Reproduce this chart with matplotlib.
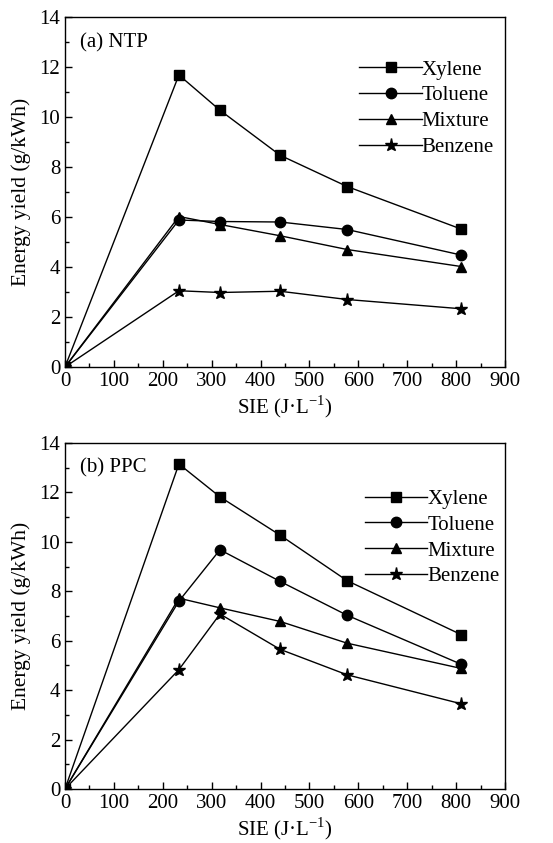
import matplotlib
matplotlib.use("Agg")
import matplotlib.pyplot as plt
from matplotlib.ticker import MultipleLocator

plt.rcParams['font.family'] = ['Liberation Serif', 'DejaVu Serif']
plt.rcParams['mathtext.fontset'] = 'custom'
plt.rcParams['mathtext.rm'] = 'Liberation Serif'

sie = [0, 233, 317, 440, 577, 810]
series_names = ["Xylene", "Toluene", "Mixture", "Benzene"]
markers = ["s", "o", "^", "*"]

ntp_xylene = [0, 11.68, 10.27, 8.47, 7.22, 5.52]
ntp_toluene = [0, 5.88, 5.82, 5.80, 5.50, 4.48]
ntp_mixture = [0, 6.02, 5.70, 5.25, 4.70, 4.02]
ntp_benzene = [0, 3.05, 2.98, 3.03, 2.70, 2.33]

ppc_xylene = [0, 13.15, 11.82, 10.27, 8.43, 6.25]
ppc_toluene = [0, 7.60, 9.68, 8.40, 7.03, 5.05]
ppc_mixture = [0, 7.72, 7.33, 6.78, 5.90, 4.88]
ppc_benzene = [0, 4.83, 7.08, 5.65, 4.62, 3.45]

panels = [
    ("(a) NTP", [ntp_xylene, ntp_toluene, ntp_mixture, ntp_benzene], (0.975, 0.877)),
    ("(b) PPC", [ppc_xylene, ppc_toluene, ppc_mixture, ppc_benzene], (0.988, 0.866)),
]

fig = plt.figure(figsize=(5.53, 8.43), dpi=100)
W, H = 553, 843
boxes = [(65, 17, 505, 367), (65, 443, 505, 789)]
fs = 15

for (title, data, anchor), (l, t, r, b) in zip(panels, boxes):
    ax = fig.add_axes([l / W, 1 - b / H, (r - l) / W, (b - t) / H])
    for name, mk, ys in zip(series_names, markers, data):
        ms = 9.5 if mk == "*" else 7.5
        ax.plot(sie, ys, color='black', lw=1.0, marker=mk, ms=ms, label=name)
    ax.set_xlim(0, 900)
    ax.set_ylim(0, 14)
    ax.xaxis.set_major_locator(MultipleLocator(100))
    ax.xaxis.set_minor_locator(MultipleLocator(50))
    ax.yaxis.set_major_locator(MultipleLocator(2))
    ax.yaxis.set_minor_locator(MultipleLocator(1))
    ax.tick_params(which='both', direction='in', top=False, right=False, labelsize=fs)
    ax.tick_params(which='major', length=5, width=1)
    ax.tick_params(which='minor', length=3, width=1)
    for sp in ax.spines.values():
        sp.set_linewidth(1.0)
    ax.set_xlabel(r"SIE (J·L$^{-1}$)", fontsize=fs, labelpad=2)
    ax.set_ylabel("Energy yield (g/kWh)", fontsize=15.5, labelpad=6)
    ax.text(0.035, 0.955, title, transform=ax.transAxes, fontsize=fs, va='top', ha='left')
    ax.legend(loc='upper right', bbox_to_anchor=anchor, frameon=False,
              fontsize=fs, handlelength=3.0, handletextpad=0.0, labelspacing=0.3,
              borderaxespad=0.0, borderpad=0.0)

fig.savefig("out.png", dpi=100)
